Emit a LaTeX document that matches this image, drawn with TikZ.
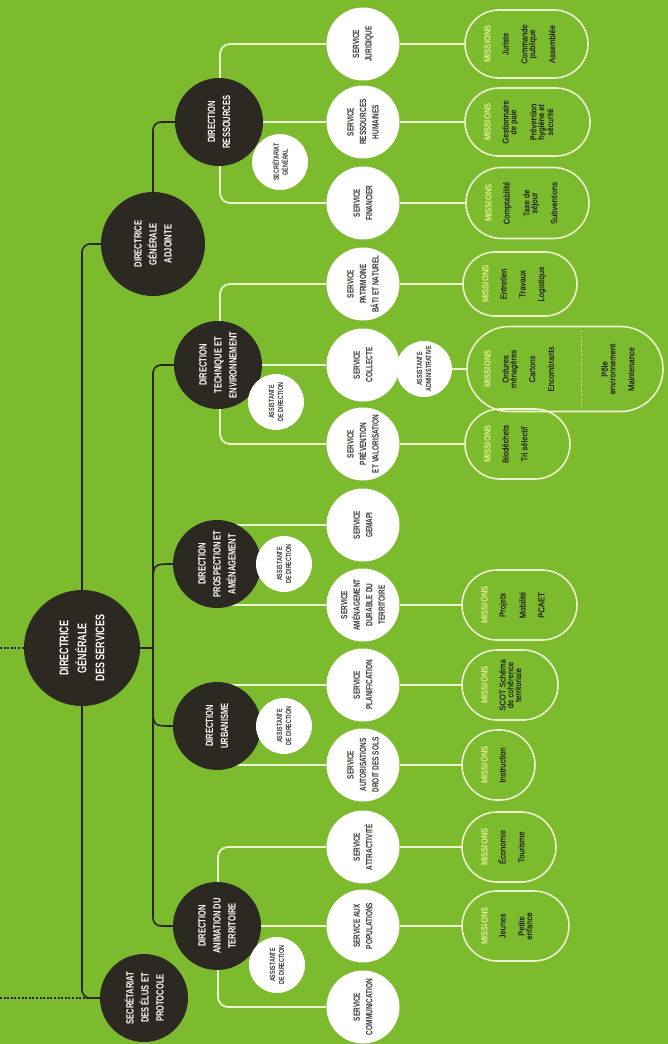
\documentclass[tikz,border=0pt]{standalone}
\usepackage{fontspec}
\newfontfamily\condf[FakeStretch=0.72]{Liberation Sans}
\newfontfamily\itemf[FakeStretch=0.9,FakeBold=0.3]{Liberation Sans}
\newfontfamily\misf[FakeStretch=0.85]{Liberation Sans}
\definecolor{bggreen}{RGB}{124,186,46}
\definecolor{darkc}{RGB}{44,40,34}
\definecolor{linec}{RGB}{40,38,30}
\definecolor{wline}{RGB}{238,244,205}
\definecolor{svctext}{RGB}{55,55,48}
\definecolor{misc}{RGB}{225,240,145}
\definecolor{itemc}{RGB}{36,38,28}
\pgfdeclarelayer{bglayer}
\pgfdeclarelayer{linelayer}
\pgfsetlayers{bglayer,linelayer,main}
\newcommand\msn{{\color{misc}\misf\bfseries\fontsize{9}{8}\selectfont MISSIONS}}
\begin{document}
\begin{tikzpicture}[x=1pt,y=-1pt,
  dircirc/.style={circle, fill=darkc, inner sep=0pt, minimum size=88pt},
  svccirc/.style={circle, fill=white, inner sep=0pt, minimum size=73pt},
  smallcirc/.style={circle, fill=white, inner sep=0pt, minimum size=56pt},
  dirtxt/.style={rotate=90, align=center, text=white, inner sep=0pt, font=\condf\bfseries\fontsize{10.5}{15}\selectfont},
  bigtxt/.style={rotate=90, align=center, text=white, inner sep=0pt, font=\condf\bfseries\fontsize{12.5}{18}\selectfont},
  svctxt/.style={rotate=90, align=center, text=svctext, inner sep=0pt, font=\condf\bfseries\fontsize{9}{12.5}\selectfont},
  smalltxt/.style={rotate=90, align=center, text=svctext, inner sep=0pt, font=\condf\bfseries\fontsize{7.5}{9}\selectfont},
  capsule/.style={draw=wline, line width=1.6pt, rectangle, inner sep=0pt},
  mistxt/.style={rotate=90, align=center, anchor=north, text=itemc, inner sep=0pt, font=\itemf\fontsize{8.5}{7.8}\selectfont},
  darkline/.style={draw=linec, line width=1.6pt},
  whiteline/.style={draw=wline, line width=1.8pt},
  dotline/.style={draw=linec, line width=1.4pt, dash pattern=on 2pt off 1.6pt},
  divline/.style={draw=wline, line width=0.8pt, dash pattern=on 1pt off 1.5pt}
]
\useasboundingbox (0,0) rectangle (668,1044);
\begin{pgfonlayer}{bglayer}
\fill[bggreen] (0,0) rectangle (668,1044);
\end{pgfonlayer}

% ---- dark (direction) circles ----
\node[dircirc, minimum size=104pt] (DGA) at (153,244) {};
\node[dircirc, minimum size=116pt] (DGS) at (82,648) {};
\node[dircirc] (SE) at (144,998) {};
\node[dircirc] (DR) at (219,122) {};
\node[dircirc] (DT) at (218,365) {};
\node[dircirc] (DPA) at (217,564) {};
\node[dircirc] (DU) at (217,726) {};
\node[dircirc] (DA) at (217,926) {};

\node[dirtxt] (DGAt) at (DGA) {DIRECTRICE\\GÉNÉRALE\\ADJOINTE};
\node[bigtxt] (DGSt) at (DGS) {DIRECTRICE\\GÉNÉRALE\\DES SERVICES};
\node[dirtxt] (SEt) at (SE) {SECRÉTARIAT\\DES ÉLUS ET\\PROTOCOLE};
\node[dirtxt] (DRt) at (DR) {DIRECTION\\RESSOURCES};
\node[dirtxt] (DTt) at (DT) {DIRECTION\\TECHNIQUE ET\\ENVIRONNEMENT};
\node[dirtxt] (DPAt) at (DPA) {DIRECTION\\PROSPECTION ET\\AMÉNAGEMENT};
\node[dirtxt] (DUt) at (DU) {DIRECTION\\URBANISME};
\node[dirtxt] (DAt) at (DA) {DIRECTION\\ANIMATION DU\\TERRITOIRE};

% ---- service circles ----
\node[svccirc] (SJ) at (363,44) {};
\node[svccirc] (SRH) at (363,122) {};
\node[svccirc] (SF) at (363,203) {};
\node[svccirc] (SP) at (363,284) {};
\node[svccirc] (SC) at (363,365) {};
\node[svccirc] (SPV) at (363,444) {};
\node[svccirc] (SG) at (363,525) {};
\node[svccirc] (SAD) at (363,605) {};
\node[svccirc] (SPL) at (363,685) {};
\node[svccirc] (SAU) at (363,765) {};
\node[svccirc] (SAT) at (363,847) {};
\node[svccirc] (SPO) at (363,926) {};
\node[svccirc] (SCO) at (363,1007) {};

\node[svctxt] (SJt) at (SJ) {SERVICE\\JURIDIQUE};
\node[svctxt] (SRHt) at (SRH) {SERVICE\\RESSOURCES\\HUMAINES};
\node[svctxt] (SFt) at (SF) {SERVICE\\FINANCIER};
\node[svctxt] (SPt) at (SP) {SERVICE\\PATRIMOINE\\BÂTI ET NATUREL};
\node[svctxt] (SCt) at (SC) {SERVICE\\COLLECTE};
\node[svctxt] (SPVt) at (SPV) {SERVICE\\PRÉVENTION\\ET VALORISATION};
\node[svctxt] (SGt) at (SG) {SERVICE\\GEMAPI};
\node[svctxt] (SADt) at (SAD) {SERVICE\\AMÉNAGEMENT\\DURABLE DU\\TERRITOIRE};
\node[svctxt] (SPLt) at (SPL) {SERVICE\\PLANIFICATION};
\node[svctxt] (SAUt) at (SAU) {SERVICE\\AUTORISATIONS\\DROIT DES SOLS};
\node[svctxt] (SATt) at (SAT) {SERVICE\\ATTRACTIVITÉ};
\node[svctxt] (SPOt) at (SPO) {SERVICE AUX\\POPULATIONS};
\node[svctxt] (SCOt) at (SCO) {SERVICE\\COMMUNICATION};

% ---- small circles ----
\node[smallcirc] (SGN) at (280,162) {};
\node[smallcirc] (ADT) at (276,402) {};
\node[smallcirc] (AA) at (424,369) {};
\node[smallcirc] (ADPA) at (284,564) {};
\node[smallcirc] (ADU) at (284,726) {};
\node[smallcirc] (ADA) at (277,965) {};
\node[smalltxt] (SGNt) at (SGN) {SECRÉTARIAT\\GÉNÉRAL};
\node[smalltxt] (ADTt) at (ADT) {ASSISTANTE\\DE DIRECTION};
\node[smalltxt] (AAt) at (AA) {ASSISTANTE\\ADMINISTRATIVE};
\node[smalltxt] (ADPAt) at (ADPA) {ASSISTANTE\\DE DIRECTION};
\node[smalltxt] (ADUt) at (ADU) {ASSISTANTE\\DE DIRECTION};
\node[smalltxt] (ADAt) at (ADA) {ASSISTANTE\\DE DIRECTION};

% ---- mission capsules ----
\node[capsule, minimum width=123pt, minimum height=68pt, rounded corners=34pt] (CJ) at (526.5,44) {};
\node[capsule, minimum width=125pt, minimum height=68pt, rounded corners=34pt] (CRH) at (527.5,122) {};
\node[capsule, minimum width=123pt, minimum height=71pt, rounded corners=35.5pt] (CF) at (527.5,203) {};
\node[capsule, minimum width=114pt, minimum height=64pt, rounded corners=32pt] (CP) at (520,284) {};
\node[capsule, minimum width=196pt, minimum height=85pt, rounded corners=42.5pt] (CC) at (565,369) {};
\node[capsule, minimum width=105pt, minimum height=70pt, rounded corners=35pt] (CPV) at (517.5,444) {};
\node[capsule, minimum width=115pt, minimum height=70pt, rounded corners=35pt] (CAD) at (519.5,605) {};
\node[capsule, minimum width=96pt, minimum height=70pt, rounded corners=35pt] (CPL) at (510,685) {};
\node[capsule, minimum width=73pt, minimum height=70pt, rounded corners=35pt] (CI) at (498.5,765) {};
\node[capsule, minimum width=94pt, minimum height=70pt, rounded corners=35pt] (CAT) at (509,847) {};
\node[capsule, minimum width=107pt, minimum height=70pt, rounded corners=35pt] (CPO) at (515.5,926) {};

\coordinate (DV1) at (581,331);
\coordinate (DV2) at (581,407);
\draw[divline] (DV1) -- (DV2);

\node[mistxt] (CJt) at ([xshift=20pt]CJ.west) {\msn\\[10pt]Juriste\\[11pt]Commande\\publique\\[11pt]Assemblée};
\node[mistxt] (CRHt) at ([xshift=20pt]CRH.west) {\msn\\[10pt]Gestionnaire\\de paie\\[11pt]Prévention\\hygiène et\\sécurité};
\node[mistxt] (CFt) at ([xshift=20pt]CF.west) {\msn\\[10pt]Comptabilité\\[11pt]Taxe de\\séjour\\[11pt]Subventions};
\node[mistxt] (CPt) at ([xshift=20pt]CP.west) {\msn\\[10pt]Entretien\\[11pt]Travaux\\[11pt]Logistique};
\node[mistxt] (CCt) at ([xshift=18pt]CC.west) {\msn\\[10pt]Ordures\\ménagères\\[11pt]Cartons\\[11pt]Encombrants};
\node[mistxt] (CC2t) at ([xshift=135pt]CC.west) {Pôle\\environnement\\[11pt]Maintenance};
\node[mistxt] (CPVt) at ([xshift=20pt]CPV.west) {\msn\\[10pt]Biodéchets\\[11pt]Tri sélectif};
\node[mistxt] (CADt) at ([xshift=20pt]CAD.west) {\msn\\[10pt]Projets\\[11pt]Mobilité\\[11pt]PCAET};
\node[mistxt] (CPLt) at ([xshift=20pt]CPL.west) {\msn\\[10pt]SCOT Schéma\\de cohérence\\territoriale};
\node[mistxt] (CIt) at ([xshift=20pt]CI.west) {\msn\\[10pt]Instruction};
\node[mistxt] (CATt) at ([xshift=20pt]CAT.west) {\msn\\[10pt]Économie\\[11pt]Tourisme};
\node[mistxt] (CPOt) at ([xshift=20pt]CPO.west) {\msn\\[10pt]Jeunes\\[11pt]Petite\\enfance};

% ---- connectors ----
\coordinate (J1) at (153,648);
\coordinate (BPA) at (153,586);
\coordinate (BU) at (153,706);
\coordinate (E1) at (0,648);
\coordinate (E2) at (0,998);

\begin{pgfonlayer}{linelayer}
% dark hierarchy lines
\draw[darkline, rounded corners=8pt] (DGA.west) -- (82,244) -- (82,998) -- (SE.west);
\draw[darkline, rounded corners=8pt] (DGA.north) |- (DR.west);
\draw[darkline, rounded corners=8pt] (DT.west) -- (153,365) -- (153,926) -- (DA.west);
\draw[darkline] (DGS.east) -- (J1);
\draw[darkline] (BPA) .. controls (153,564) .. (DPA.west);
\draw[darkline] (BU) .. controls (153,726) .. (DU.west);
\draw[dotline] (E1) -- (DGS.west);
\draw[dotline] (E2) -- (SE.west);
% white brackets
\draw[whiteline, rounded corners=10pt] (SJ.west) -- (220,44) -- (220,203) -- (SF.west);
\draw[whiteline] (DR.east) -- (SRH.west);
\draw[whiteline, rounded corners=10pt] (SP.west) -- (220,284) -- (220,444) -- (SPV.west);
\draw[whiteline] (DT.east) -- (SC.west);
\draw[whiteline, rounded corners=10pt] (SG.west) -- (218,525) -- (218,605) -- (SAD.west);
\draw[whiteline, rounded corners=10pt] (SPL.west) -- (218,685) -- (218,765) -- (SAU.west);
\draw[whiteline, rounded corners=10pt] (SAT.west) -- (218,847) -- (218,1007) -- (SCO.west);
\draw[whiteline] (DA.east) -- (SPO.west);
% services to missions
\draw[whiteline] (SJ.east) -- (CJ.west);
\draw[whiteline] (SRH.east) -- (CRH.west);
\draw[whiteline] (SF.east) -- (CF.west);
\draw[whiteline] (SP.east) -- (CP.west);
\draw[whiteline] (AA.east) -- (CC.west);
\draw[whiteline] (SPV.east) -- (CPV.west);
\draw[whiteline] (SAD.east) -- (CAD.west);
\draw[whiteline] (SPL.east) -- (CPL.west);
\draw[whiteline] (SAU.east) -- (CI.west);
\draw[whiteline] (SAT.east) -- (CAT.west);
\draw[whiteline] (SPO.east) -- (CPO.west);
\end{pgfonlayer}
\end{tikzpicture}
\end{document}
